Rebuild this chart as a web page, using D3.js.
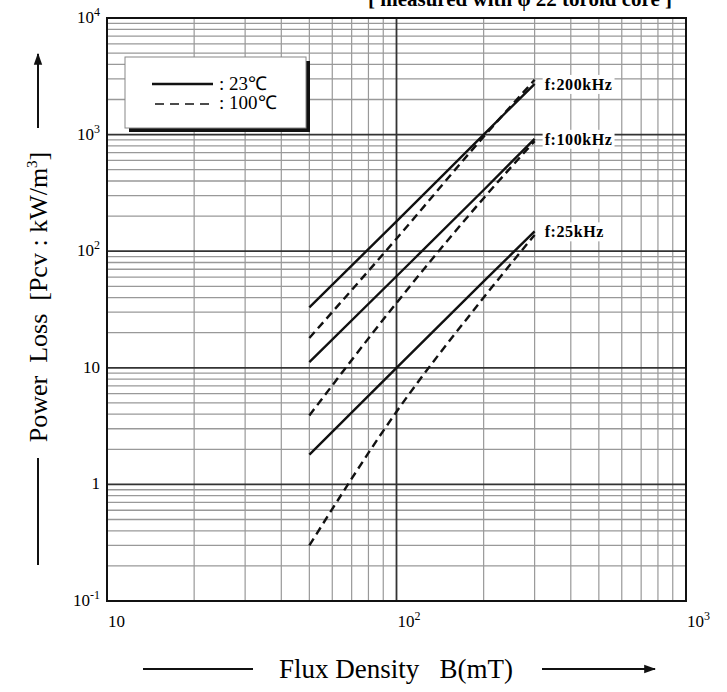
<!DOCTYPE html>
<html><head><meta charset="utf-8">
<script src="https://cdn.jsdelivr.net/npm/d3@7"></script>
<style>body{margin:0;background:#fff}svg{display:block}</style>
</head><body>
<script>
// ---- data ----
const fluxB = [50, 100, 200, 300];               // mT
const loss200k_23 = [33, 180, 1000, 2720];
const loss200k_100 = [18, 128, 960, 2950];
const loss100k_23 = [11.2, 61, 335, 920];
const loss100k_100 = [3.9, 36, 285, 880];
const loss25k_23 = [1.8, 10, 55, 148];
const loss25k_100 = [0.30, 4.2, 40, 138];
const freqLabels = ["f:200kHz", "f:100kHz", "f:25kHz"];
const freqLabelValues = [2720, 920, 148];
const xTickValues = [10, 100, 1000];
const xTickBase = ["10", "10", "10"];
const xTickExp = ["", "2", "3"];
const yTickValues = [0.1, 1, 10, 100, 1000, 10000];
const yTickBase = ["10", "1", "10", "10", "10", "10"];
const yTickExp = ["-1", "", "", "2", "3", "4"];
const legendLabels = [": 23\u2103", ": 100\u2103"];

const series = [
  {v: loss200k_23, dash: false}, {v: loss200k_100, dash: true},
  {v: loss100k_23, dash: false}, {v: loss100k_100, dash: true},
  {v: loss25k_23, dash: false}, {v: loss25k_100, dash: true}
];

const W = 727, H = 692;
const L = 107, R = 686, T = 18, B = 601;
const serif = "'Liberation Serif','Times New Roman',serif";

const svg = d3.select("body").append("svg").attr("width", W).attr("height", H)
  .style("font-family", serif);

const x = d3.scaleLog().domain([10, 1000]).range([L, R]);
const y = d3.scaleLog().domain([0.1, 10000]).range([B, T]);

// minor grid
const minorX = [], minorY = [];
for (let d = 10; d < 1000; d *= 10) for (let k = 2; k <= 9; k++) minorX.push(d * k);
for (let d = 0.1; d < 9999; d *= 10) for (let k = 2; k <= 9; k++) minorY.push(+(d * k).toPrecision(3));

const grid = svg.append("g");
grid.selectAll(".vx").data(minorX).join("line")
  .attr("x1", d => x(d)).attr("x2", d => x(d)).attr("y1", T).attr("y2", B)
  .attr("stroke", "#999").attr("stroke-width", 1.2);
grid.selectAll(".hy").data(minorY).join("line")
  .attr("x1", L).attr("x2", R).attr("y1", d => y(d)).attr("y2", d => y(d))
  .attr("stroke", "#999").attr("stroke-width", 1.3);
grid.selectAll(".mx").data([100]).join("line")
  .attr("x1", d => x(d)).attr("x2", d => x(d)).attr("y1", T).attr("y2", B)
  .attr("stroke", "#333").attr("stroke-width", 1.8);
grid.selectAll(".my").data([1, 10, 100, 1000]).join("line")
  .attr("x1", L).attr("x2", R).attr("y1", d => y(d)).attr("y2", d => y(d))
  .attr("stroke", "#333").attr("stroke-width", 1.8);

// frequency labels with white background
const fl = svg.append("g");
freqLabels.forEach((t, i) => {
  const yy = y(freqLabelValues[i]) + 1;
  const g = fl.append("g");
  const txt = g.append("text").attr("x", x(300) + 10).attr("y", yy + 5)
    .attr("font-size", 16).attr("font-weight", "bold").attr("letter-spacing", 0.6).text(t);
  const bb = txt.node().getBBox();
  g.insert("rect", "text").attr("x", bb.x - 2).attr("y", bb.y - 1)
    .attr("width", bb.width + 4).attr("height", bb.height + 2).attr("fill", "#fff");
});

// frame
svg.append("rect").attr("x", L).attr("y", T).attr("width", R - L).attr("height", B - T)
  .attr("fill", "none").attr("stroke", "#111").attr("stroke-width", 2);

// curves
const line = d3.line().x((d, i) => x(fluxB[i])).y(d => y(d)).curve(d3.curveMonotoneX);
svg.append("g").selectAll("path").data(series).join("path")
  .attr("d", d => line(d.v)).attr("fill", "none").attr("stroke", "#111")
  .attr("stroke-width", 2.4)
  .attr("stroke-dasharray", d => d.dash ? "8,5" : null);

// legend
const lg = svg.append("g");
lg.append("rect").attr("x", 129).attr("y", 61).attr("width", 181).attr("height", 71).attr("fill", "#111");
lg.append("rect").attr("x", 125).attr("y", 57).attr("width", 181).attr("height", 71)
  .attr("fill", "#fff").attr("stroke", "#888").attr("stroke-width", 1);
lg.append("line").attr("x1", 152).attr("x2", 213).attr("y1", 84).attr("y2", 84)
  .attr("stroke", "#111").attr("stroke-width", 2.4);
lg.append("line").attr("x1", 155).attr("x2", 213).attr("y1", 104).attr("y2", 104)
  .attr("stroke", "#111").attr("stroke-width", 1.6).attr("stroke-dasharray", "9,6");
lg.selectAll("text").data(legendLabels).join("text")
  .attr("x", 219).attr("y", (d, i) => 90 + i * 19).attr("font-size", 19).text(d => d);

// y tick labels
const yl = svg.append("g");
yTickValues.forEach((v, i) => {
  const t = yl.append("text").attr("x", 100).attr("y", y(v) + 5).attr("text-anchor", "end")
    .attr("font-size", 17);
  t.append("tspan").text(yTickBase[i]);
  if (yTickExp[i]) t.append("tspan").attr("dy", -7).attr("font-size", 12).text(yTickExp[i]);
});
// x tick labels
const xl = svg.append("g");
xTickValues.forEach((v, i) => {
  const t = xl.append("text").attr("x", x(v) + 1).attr("y", 627).attr("font-size", 17);
  t.append("tspan").text(xTickBase[i]);
  if (xTickExp[i]) t.append("tspan").attr("dy", -7).attr("font-size", 12).text(xTickExp[i]);
});

// arrow marker
svg.append("defs").append("marker").attr("id", "arr").attr("viewBox", "0 0 10 10")
  .attr("refX", 9).attr("refY", 5).attr("markerWidth", 6).attr("markerHeight", 6)
  .attr("orient", "auto").attr("markerUnits", "strokeWidth")
  .append("path").attr("d", "M0,1.5 L10,5 L0,8.5 Z").attr("fill", "#111");

// x axis title
svg.append("line").attr("x1", 143).attr("x2", 253).attr("y1", 669).attr("y2", 669)
  .attr("stroke", "#111").attr("stroke-width", 2);
svg.append("text").attr("x", 396).attr("y", 678).attr("text-anchor", "middle")
  .attr("font-size", 27).attr("xml:space", "preserve").text("Flux Density   B(mT)");
svg.append("line").attr("x1", 542).attr("x2", 655).attr("y1", 669).attr("y2", 669)
  .attr("stroke", "#111").attr("stroke-width", 2).attr("marker-end", "url(#arr)");

// y axis title
svg.append("line").attr("x1", 38).attr("x2", 38).attr("y1", 565).attr("y2", 458)
  .attr("stroke", "#111").attr("stroke-width", 2);
const yt = svg.append("text").attr("transform", "translate(47,297) rotate(-90)")
  .attr("text-anchor", "middle").attr("font-size", 26).attr("xml:space", "preserve");
yt.append("tspan").text("Power  Loss  [Pcv : kW/m");
yt.append("tspan").attr("dy", -10).attr("font-size", 15).text("3");
yt.append("tspan").attr("dy", 10).text("]");
svg.append("line").attr("x1", 38).attr("x2", 38).attr("y1", 128).attr("y2", 54)
  .attr("stroke", "#111").attr("stroke-width", 2).attr("marker-end", "url(#arr)");

// top note (partially cut off as in reference)
svg.append("text").attr("x", 520).attr("y", 6).attr("text-anchor", "middle")
  .attr("font-size", 21).attr("font-weight", "bold").attr("xml:space", "preserve")
  .text("[ measured with \u03C6 22 toroid core ]");
</script>
</body></html>
